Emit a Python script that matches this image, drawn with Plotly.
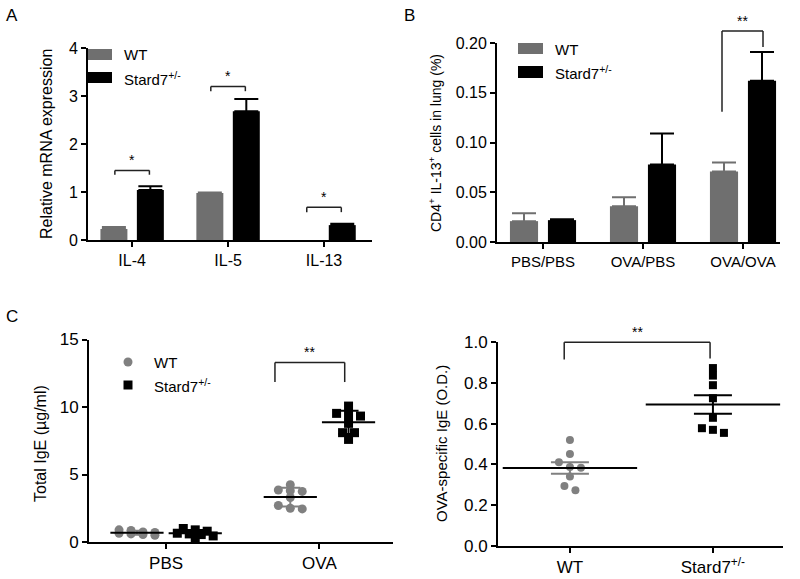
import numpy as np
import plotly.graph_objects as go

# ---- data ----
cytokines = ["IL-4", "IL-5", "IL-13"]
mrna_wt = [0.23, 0.98, None]
mrna_wt_err = [0.04, 0.01, None]
mrna_ko = [1.04, 2.68, 0.31]
mrna_ko_err = [0.08, 0.26, 0.03]

treatments = ["PBS/PBS", "OVA/PBS", "OVA/OVA"]
cd4_wt = [0.021, 0.036, 0.071]
cd4_wt_err = [0.008, 0.009, 0.009]
cd4_ko = [0.022, 0.078, 0.162]
cd4_ko_err = [0.001, 0.031, 0.029]

ige_groups = ["PBS", "OVA"]
ige_wt_pbs = [0.9, 0.85, 0.75, 0.7, 0.65, 0.6, 0.55, 0.5]
ige_ko_pbs = [1.0, 0.9, 0.8, 0.65, 0.6, 0.55, 0.45, 0.3]
ige_wt_ova = [4.25, 3.85, 3.8, 3.75, 3.3, 2.7, 2.5, 2.45]
ige_ko_ova = [10.07, 9.53, 9.41, 9.33, 8.79, 8.1, 8.1, 7.6]

genotypes = ["WT", "Stard7<sup>+/-</sup>"]
ova_ige_wt = [0.52, 0.452, 0.411, 0.387, 0.384, 0.341, 0.294, 0.273]
ova_ige_ko = [0.873, 0.836, 0.789, 0.725, 0.629, 0.578, 0.570, 0.555]

FONT = "Liberation Sans, Arial, sans-serif"
GRAY = "#6f6f6f"
DOT = "#808080"
W, H = 800, 579


def px(x):
    return x / W


def py(y):
    return 1 - y / H


def frac(v, rng):
    return (v - rng[0]) / (rng[1] - rng[0])


def swarm(values, center, thresh, step, max_row=4):
    # prism-like spread: points of similar value sit side by side
    order = sorted(range(len(values)), key=lambda i: -values[i])
    rows = []
    for i in order:
        if rows and rows[-1][0] - values[i] < thresh and len(rows[-1][1]) < max_row:
            rows[-1][1].append(i)
        else:
            rows.append([values[i], [i]])
    xs = [0.0] * len(values)
    for _, idx in rows:
        k = len(idx)
        for j, i in enumerate(idx):
            xs[i] = center + (j - (k - 1) / 2) * step
    return xs


fig = go.Figure()

# ---- A: relative mRNA ----
for vals, err, col in [(mrna_wt, mrna_wt_err, GRAY), (mrna_ko, mrna_ko_err, "black")]:
    fig.add_trace(go.Bar(
        x=list(range(len(cytokines))), y=vals,
        marker=dict(color=col, line=dict(width=0)),
        error_y=dict(type="data", array=err, arrayminus=[0] * len(err), symmetric=False,
                     color=col, thickness=2, width=12),
        xaxis="x", yaxis="y", showlegend=False,
    ))

# ---- B: CD4+ IL-13+ ----
for vals, err, col in [(cd4_wt, cd4_wt_err, GRAY), (cd4_ko, cd4_ko_err, "black")]:
    fig.add_trace(go.Bar(
        x=list(range(len(treatments))), y=vals,
        marker=dict(color=col, line=dict(width=0)),
        error_y=dict(type="data", array=err, arrayminus=[0] * len(err), symmetric=False,
                     color=col, thickness=2, width=12),
        xaxis="x2", yaxis="y2", showlegend=False,
    ))


def dot_group(vals, center, symbol, col, bar_col, xa, ya, thresh, step, size, mean_w, cap_w, use_sem):
    v = np.array(vals)
    fig.add_trace(go.Scatter(
        x=swarm(vals, center, thresh, step), y=vals, mode="markers",
        marker=dict(symbol=symbol, size=size, color=col, line=dict(width=0)),
        xaxis=xa, yaxis=ya, showlegend=False, cliponaxis=False,
    ))
    spread = v.std(ddof=1)
    if use_sem:
        spread = spread / np.sqrt(len(v))
    fig.add_trace(go.Scatter(
        x=[center], y=[v.mean()], mode="markers",
        marker=dict(symbol="line-ew", size=mean_w, color="black", line=dict(width=2, color="black")),
        error_y=dict(type="data", array=[spread], color=bar_col, thickness=2, width=cap_w),
        xaxis=xa, yaxis=ya, showlegend=False, cliponaxis=False,
    ))


# ---- C left: total IgE (mean +/- SD) ----
off = 0.19
for i, (wt, ko) in enumerate([(ige_wt_pbs, ige_ko_pbs), (ige_wt_ova, ige_ko_ova)]):
    dot_group(wt, i - off, "circle", DOT, DOT, "x3", "y3", 0.3, 0.078, 9, 38, 10, False)
    dot_group(ko, i + off, "square", "black", "black", "x3", "y3", 0.3, 0.078, 9, 38, 10, False)

# ---- C right: OVA-specific IgE (mean +/- SEM) ----
dot_group(ova_ige_wt, 0, "circle", DOT, DOT, "x4", "y4", 0.03, 0.077, 8, 96, 19, True)
dot_group(ova_ige_ko, 1, "square", "black", "black", "x4", "y4", 0.03, 0.077, 8, 96, 19, True)

# ---- axes ----
def ax_style(size):
    return dict(showline=True, linecolor="black", linewidth=2, ticks="outside",
                ticklen=5, tickwidth=2, tickcolor="black", showgrid=False,
                zeroline=False, automargin=False,
                tickfont=dict(family=FONT, size=size, color="black"))


rngA = [0, 4]
rngB = [0, 0.2]
rngC = [0, 15]
rngD = [0, 1.0]

fig.update_layout(
    width=W, height=H, margin=dict(l=0, r=0, t=0, b=0, pad=0, autoexpand=False),
    paper_bgcolor="white", plot_bgcolor="white",
    barmode="group", bargap=0.24, bargroupgap=0.26,
    xaxis=dict(domain=[0.11, 0.465], range=[-0.46, 2.5], tickvals=[0, 1, 2],
               ticktext=cytokines, anchor="y", **ax_style(16)),
    yaxis=dict(domain=[0.5855, 0.9171], range=rngA, dtick=1, anchor="x", **ax_style(16)),
    xaxis2=dict(domain=[0.62125, 0.975], range=[-0.46, 2.37], tickvals=[0, 1, 2],
                ticktext=treatments, anchor="y2", **ax_style(15)),
    yaxis2=dict(domain=[0.582, 0.9257], range=rngB, dtick=0.05, tickformat=".2f",
                anchor="x2", **ax_style(16)),
    xaxis3=dict(domain=[0.11125, 0.49125], range=[-0.503, 1.48], tickvals=[0, 1],
                ticktext=ige_groups, anchor="y3", **ax_style(17)),
    yaxis3=dict(domain=[0.0639, 0.4136], range=rngC, dtick=5, anchor="x3", **ax_style(17)),
    xaxis4=dict(domain=[0.6225, 0.97875], range=[-0.503, 1.49], tickvals=[0, 1],
                ticktext=genotypes, anchor="y4", **ax_style(17)),
    yaxis4=dict(domain=[0.057, 0.409], range=rngD, dtick=0.2, tickformat=".1f",
                anchor="x4", **ax_style(17)),
)

# ---- significance brackets ----
shapes = []
annotations = []


def bracket(xa, ya, rng, x0, x1, ytop, yl, yr, stars):
    yref = ya + " domain"
    line = dict(color="#222222", width=1.5)
    for (a, b, c, d) in [(x0, yl, x0, ytop), (x0, ytop, x1, ytop), (x1, ytop, x1, yr)]:
        shapes.append(dict(type="line", xref=xa, yref=yref, x0=a, x1=c,
                           y0=frac(b, rng), y1=frac(d, rng), line=line))
    annotations.append(dict(xref=xa, yref=yref, x=(x0 + x1) / 2, y=frac(ytop, rng),
                            yanchor="bottom", text=stars, showarrow=False,
                            font=dict(family=FONT, size=14, color="black")))


bracket("x", "y", rngA, -0.18, 0.18, 1.45, 1.36, 1.36, "*")
bracket("x", "y", rngA, 0.82, 1.18, 3.2, 3.1, 3.1, "*")
bracket("x", "y", rngA, 1.82, 2.18, 0.68, 0.58, 0.58, "*")
bracket("x2", "y2", rngB, 1.79, 2.2, 0.212, 0.131, 0.196, "**")
bracket("x3", "y3", rngC, 0.71, 1.165, 13.3, 11.85, 11.85, "**")
bracket("x4", "y4", rngD, -0.04, 0.98, 1.0, 0.915, 0.92, "**")

# ---- legends ----
def legend_rect(x0, x1, y0, y1, col):
    shapes.append(dict(type="rect", xref="paper", yref="paper", x0=px(x0), x1=px(x1),
                       y0=py(y1), y1=py(y0), fillcolor=col, line=dict(width=0)))


def label(x, y, text, size=15, xanchor="left", angle=0):
    annotations.append(dict(xref="paper", yref="paper", x=px(x), y=py(y), text=text,
                            xanchor=xanchor, yanchor="middle", showarrow=False, textangle=angle,
                            font=dict(family=FONT, size=size, color="black")))


legend_rect(88, 112, 49, 60, GRAY)
legend_rect(88, 112, 72, 83, "black")
label(122, 55, "WT")
label(122, 78, "Stard7<sup>+/-</sup>")

legend_rect(518, 543, 43, 54, GRAY)
legend_rect(518, 543, 66, 78, "black")
label(553, 49, "WT")
label(553, 72, "Stard7<sup>+/-</sup>")

shapes.append(dict(type="circle", xref="paper", yref="paper", x0=px(123.5), x1=px(132.5),
                   y0=py(366.5), y1=py(357.5), fillcolor=DOT, line=dict(width=0)))
legend_rect(123.5, 132.5, 380.5, 389.5, "black")
label(152, 362, "WT")
label(152, 385, "Stard7<sup>+/-</sup>")

# axis titles
label(46, 144, "Relative mRNA expression", size=16, xanchor="center", angle=-90)
label(435, 143, "CD4<sup>+</sup> IL-13<sup>+</sup> cells in lung (%)", size=14,
      xanchor="center", angle=-90)
label(41, 444, "Total IgE (µg/ml)", size=16, xanchor="center", angle=-90)
label(442, 444, "OVA-specific IgE (O.D.)", size=15, xanchor="center", angle=-90)

# panel letters
label(12, 16, "A", size=17, xanchor="center")
label(410, 16, "B", size=17, xanchor="center")
label(12, 316, "C", size=17, xanchor="center")

fig.update_layout(shapes=shapes, annotations=annotations)
fig.write_html("out.html", config={"displayModeBar": False},
               post_script="document.body.style.margin='0px';")
